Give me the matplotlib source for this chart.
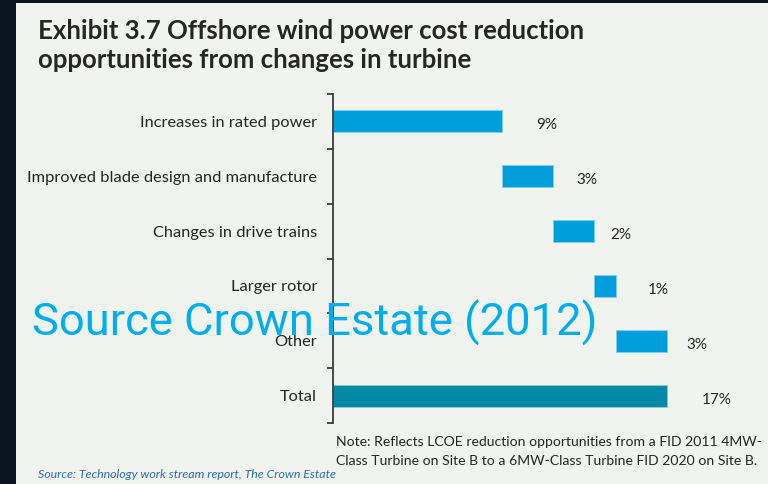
import matplotlib
matplotlib.use("Agg")
import matplotlib.pyplot as plt
from matplotlib import font_manager
from matplotlib.patches import Rectangle
import matplotlib.transforms as mtransforms

# Cost reduction contributions (% of LCOE) and their categories
categories = [
    "Increases in rated power",
    "Improved blade design and manufacture",
    "Changes in drive trains",
    "Larger rotor",
    "Other",
    "Total",
]
steps = [8.6, 2.6, 2.1, 1.1, 2.6]
total = 17.0

title_lines = [
    "Exhibit 3.7 Offshore wind power cost reduction",
    "opportunities from changes in turbine",
]
note_lines = [
    "Note: Reflects LCOE reduction opportunities from a FID 2011 4MW-",
    "Class Turbine on Site B to a 6MW-Class Turbine FID 2020 on Site B.",
]
source_text = "Source: Technology work stream report, The Crown Estate"
overlay_text = "Source Crown Estate (2012)"

BORDER = "#0a1423"
PANEL = "#f1f3ee"
BAR = "#009fdb"
TOTAL_BAR = "#0088a5"
TEXT = "#262626"
AXIS = "#3c3c3c"
OVERLAY = "#00aeef"
SOURCE = "#2e6db4"

installed = {f.name for f in font_manager.fontManager.ttflist}
base_font = "Lato" if "Lato" in installed else "DejaVu Sans"
banner_font = "Roboto" if "Roboto" in installed else "DejaVu Sans"

W, H = 768, 484
fig = plt.figure(figsize=(W / 100, H / 100), dpi=100, facecolor=BORDER)

# light panel that holds the exhibit
fig.patches.append(Rectangle((16 / W, 0), 1 - 16 / W, 1 - 3 / H,
                             transform=fig.transFigure, facecolor=PANEL,
                             edgecolor="none", zorder=-5))

ax = fig.add_axes([333 / W, 1 - 423 / H, 417 / W, 329 / H])
ax.set_facecolor("none")
ax.set_zorder(1)

n = len(categories)
rows = list(range(n))

# waterfall: each step starts where the previous one ended
lefts = []
acc = 0.0
for v in steps:
    lefts.append(acc)
    acc += v
widths = steps + [total]
lefts = lefts + [0.0]
colors = [BAR] * len(steps) + [TOTAL_BAR]

bars = ax.barh(rows, widths, left=lefts, height=0.4, color=colors,
               edgecolor="#7fd0ee", linewidth=0.6, zorder=2)
bars[-1].set_edgecolor("#8cc9d6")

# value labels to the right of each bar
label_pad_px = [34, 23, 16, 32, 19, 35]
for r, (l, w) in enumerate(zip(lefts, widths)):
    off = mtransforms.offset_copy(ax.transData, fig=fig,
                                  x=label_pad_px[r] * 0.72, y=-4 * 0.72,
                                  units="points")
    ax.text(l + w, r, f"{w:.0f}%", transform=off, ha="left", va="center",
            fontsize=11, color=TEXT, family=base_font)

ax.set_xlim(0, 417 / (334 / total))
ax.set_ylim(n - 0.5, -0.5)

for s in ("top", "right", "bottom"):
    ax.spines[s].set_visible(False)
ax.spines["left"].set_color(AXIS)
ax.spines["left"].set_linewidth(1.3)

ax.set_xticks([])
ax.set_yticks(rows)
ax.set_yticklabels(categories, fontsize=11.8, color=TEXT, family=base_font)
ax.tick_params(axis="y", which="major", length=0, pad=11.5)
ax.set_yticks([r - 0.5 for r in range(n + 1)], minor=True)
ax.tick_params(axis="y", which="minor", length=4, width=1.3, color=AXIS)

# title
for i, line in enumerate(title_lines):
    fig.text(38 / W, 1 - (39 + 29 * i) / H, line, ha="left", va="baseline",
             fontsize=18.5, fontweight="bold", color=TEXT, family=base_font)

# note under the chart
for i, line in enumerate(note_lines):
    fig.text(336 / W, 1 - (446 + 19 * i) / H, line, ha="left", va="baseline",
             fontsize=10.1, color=TEXT, family=base_font)

fig.text(38 / W, 1 - 478 / H, source_text, ha="left", va="baseline",
         fontsize=8.9, style="italic", color=SOURCE, family=base_font)

# attribution banner across the chart
fig.text(32 / W, 1 - 336 / H, overlay_text, ha="left", va="baseline",
         fontsize=32.7, color=OVERLAY, family=banner_font, zorder=10)

fig.savefig("out.png", dpi=100, facecolor=BORDER)
